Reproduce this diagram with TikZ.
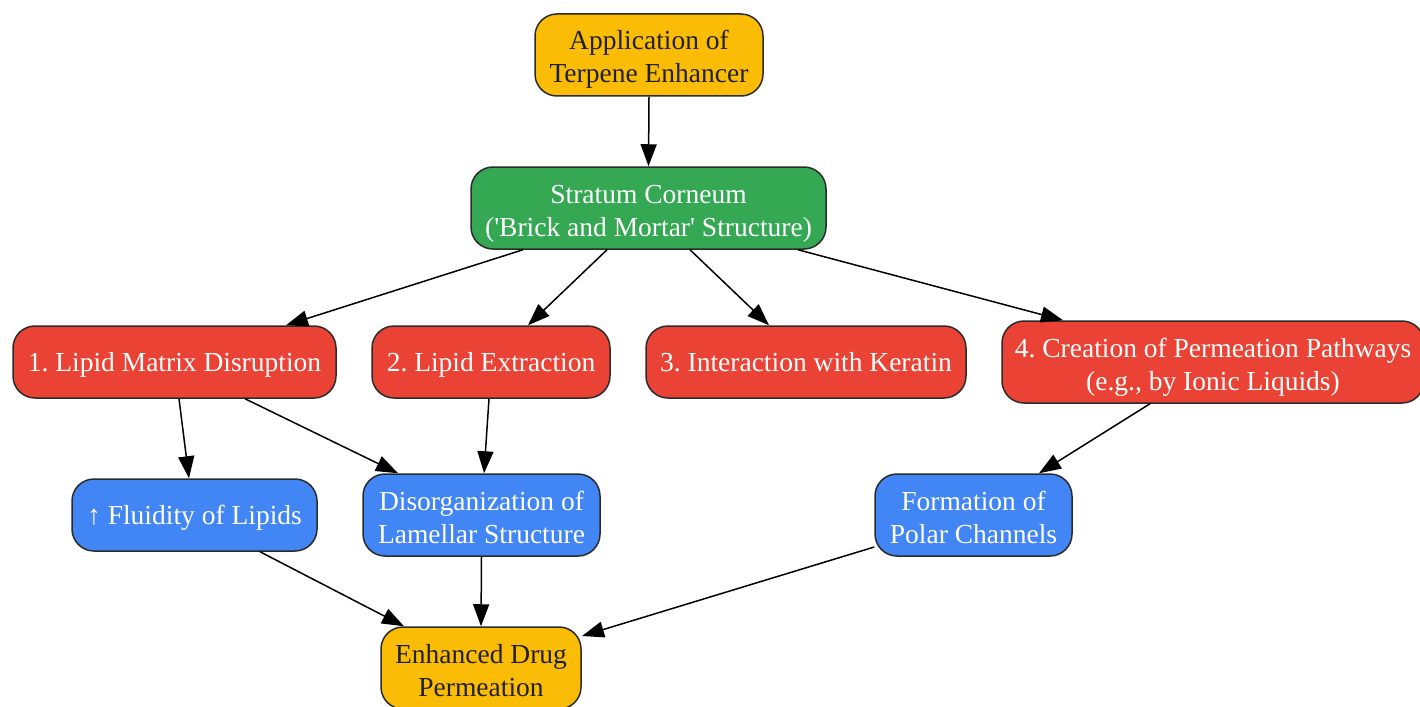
\documentclass[tikz,border=0pt]{standalone}
\usepackage{fontspec}
\newfontfamily\nf{Liberation Serif}
\usetikzlibrary{arrows.meta}
\definecolor{cOrange}{HTML}{FBBC05}
\definecolor{cGreen}{HTML}{34A853}
\definecolor{cRed}{HTML}{EA4335}
\definecolor{cBlue}{HTML}{4285F4}
\definecolor{cDark}{HTML}{202124}
\definecolor{cBorder}{HTML}{2B2B2B}
\newcommand\mystrut{\rule[-7pt]{0pt}{33pt}}
\newcommand\topS{\rule[-7pt]{0pt}{37pt}}
\newcommand\botS{\rule[-7pt]{0pt}{7pt}}
\tikzset{
  box/.style={draw=cBorder, line width=1.5pt, rounded corners=22pt, align=center,
    inner sep=0pt, font=\nf\fontsize{27.5}{33}\selectfont\frenchspacing},
  oneline/.style={execute at begin node=\mystrut, execute at end node=\mystrut},
  orangebox/.style={box, fill=cOrange, text=cDark},
  greenbox/.style={box, fill=cGreen, text=white},
  redbox/.style={box, fill=cRed, text=white},
  bluebox/.style={box, fill=cBlue, text=white},
  arr/.style={-{Triangle[length=22pt,width=16pt]}, line width=1.5pt, draw=black},
}
\begin{document}
\begin{tikzpicture}[x=1pt,y=1pt]
\useasboundingbox (0,0) rectangle (1420,-706);
\node[orangebox, minimum width=228pt, minimum height=82pt] (app) at (649,-55) {\topS Application of\\Terpene Enhancer\botS};
\node[greenbox, minimum width=355pt, minimum height=82pt] (sc) at (648.5,-208) {\topS Stratum Corneum\\('Brick and Mortar' Structure)\botS};
\node[redbox, oneline, minimum width=323pt, minimum height=72pt] (n1) at (174.5,-362) {1. Lipid Matrix Disruption};
\node[redbox, oneline, minimum width=238pt, minimum height=72pt] (n2) at (491,-362) {2. Lipid Extraction};
\node[redbox, oneline, minimum width=320pt, minimum height=72pt] (n3) at (806,-362) {3. Interaction with Keratin};
\node[redbox, minimum width=422pt, minimum height=82pt] (n4) at (1213,-362) {\topS 4. Creation of Permeation Pathways\\(e.g., by Ionic Liquids)\botS};
\node[bluebox, oneline, minimum width=245pt, minimum height=72pt] (fl) at (194.5,-515) {↑ Fluidity of Lipids};
\node[bluebox, minimum width=237pt, minimum height=82pt] (dis) at (481.5,-515) {\topS Disorganization of\\Lamellar Structure\botS};
\node[bluebox, minimum width=197pt, minimum height=82pt] (pol) at (973.5,-515) {\topS Formation of\\Polar Channels\botS};
\node[orangebox, minimum width=200pt, minimum height=82pt] (enh) at (481,-668) {\topS Enhanced Drug\\Permeation\botS};

\draw[arr] (app.south) -- (sc.north);
\draw[arr] ([xshift=-125.5pt]sc.south) -- ([xshift=111.5pt]n1.north);
\draw[arr] ([xshift=-41.5pt]sc.south) -- ([xshift=37pt]n2.north);
\draw[arr] ([xshift=41.5pt]sc.south) -- ([xshift=-37pt]n3.north);
\draw[arr] ([xshift=149.5pt]sc.south) -- ([xshift=-150pt]n4.north);
\draw[arr] ([xshift=4.5pt]n1.south) -- ([xshift=-5.5pt]fl.north);
\draw[arr] ([xshift=70.5pt]n1.south) -- ([xshift=-83.5pt]dis.north);
\draw[arr] ([xshift=-2pt]n2.south) -- ([xshift=2.5pt]dis.north);
\draw[arr] ([xshift=-63pt]n4.south) -- ([xshift=65.5pt]pol.north);
\draw[arr] ([xshift=65.5pt]fl.south) -- ([xshift=-77pt]enh.north);
\draw[arr] (dis.south) -- (enh.north);
\draw[arr] ([yshift=-32pt]pol.west) -- ([xshift=101pt,yshift=32pt]enh.center);
\end{tikzpicture}
\end{document}
